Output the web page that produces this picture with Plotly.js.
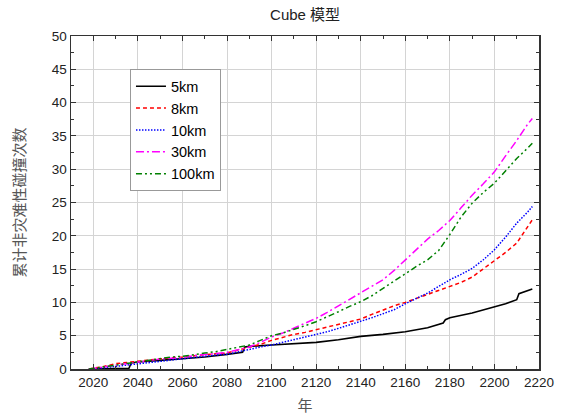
<!DOCTYPE html>
<html>
<head>
<meta charset="utf-8">
<script src="https://cdn.plot.ly/plotly-3.0.1.min.js"></script>
<style>html,body{margin:0;padding:0;background:#fff;}#chart{width:566px;height:416px;}</style>
</head>
<body>
<div id="chart"></div>
<script>
const seriesNames = ["5km", "8km", "10km", "30km", "100km"];

const years5km = [2018, 2036, 2037, 2040, 2050, 2060, 2070, 2080, 2087, 2088, 2090, 2100, 2110, 2120, 2130, 2140, 2150, 2160, 2170, 2177, 2178, 2180, 2190, 2200, 2205, 2210, 2211, 2217];
const vals5km  = [0, 0.1, 0.9, 1.05, 1.3, 1.5, 1.8, 2.2, 2.5, 3.3, 3.4, 3.6, 3.8, 4.0, 4.4, 4.9, 5.2, 5.6, 6.2, 6.9, 7.4, 7.7, 8.4, 9.3, 9.8, 10.4, 11.3, 12.0];

const years = [2018, 2020, 2025, 2030, 2035, 2040, 2045, 2050, 2055, 2060, 2065, 2070, 2075, 2080, 2085, 2090, 2095, 2100, 2105, 2110, 2115, 2120, 2125, 2130, 2135, 2140, 2145, 2150, 2155, 2160, 2165, 2170, 2175, 2180, 2185, 2190, 2195, 2200, 2205, 2210, 2215, 2217];

const vals8km = [0, 0.1, 0.4, 0.8, 1.0, 1.2, 1.4, 1.5, 1.7, 1.8, 2.0, 2.1, 2.3, 2.4, 2.8, 3.2, 3.7, 4.3, 4.8, 5.2, 5.5, 5.9, 6.3, 6.7, 7.1, 7.5, 8.2, 8.9, 9.5, 10.0, 10.6, 11.2, 11.7, 12.3, 13.0, 13.8, 15.0, 16.3, 17.5, 18.9, 21.5, 22.4];

const vals10km = [0, 0, 0.2, 0.4, 0.6, 0.8, 1.0, 1.2, 1.3, 1.5, 1.8, 2.0, 2.1, 2.2, 2.6, 3.0, 3.3, 3.6, 4.0, 4.4, 4.8, 5.1, 5.6, 6.1, 6.6, 7.1, 7.7, 8.3, 8.9, 9.8, 10.6, 11.4, 12.4, 13.4, 14.2, 15.1, 16.4, 17.9, 19.8, 21.9, 23.6, 24.4];

const vals30km = [0, 0.1, 0.3, 0.6, 0.8, 1.0, 1.3, 1.5, 1.6, 1.7, 2.0, 2.2, 2.3, 2.5, 2.9, 3.3, 4.0, 4.8, 5.4, 6.1, 6.8, 7.6, 8.5, 9.5, 10.5, 11.4, 12.4, 13.4, 14.8, 16.4, 18.0, 19.5, 20.8, 22.3, 24.2, 26.1, 27.8, 29.6, 32.0, 34.3, 36.8, 37.6];

const vals100km = [0, 0.1, 0.4, 0.6, 0.9, 1.1, 1.4, 1.6, 1.8, 1.9, 2.2, 2.4, 2.6, 2.9, 3.2, 3.6, 4.3, 5.0, 5.4, 5.9, 6.5, 7.1, 7.8, 8.6, 9.4, 10.1, 11.0, 12.1, 13.2, 14.4, 15.4, 16.4, 17.8, 20.2, 22.8, 24.9, 26.5, 27.9, 29.8, 31.6, 33.2, 33.9];

const xTickVals = [2020, 2040, 2060, 2080, 2100, 2120, 2140, 2160, 2180, 2200, 2220];
const yTickVals = [0, 5, 10, 15, 20, 25, 30, 35, 40, 45, 50];

const traces = [
  {x: years5km, y: vals5km, name: seriesNames[0], mode: 'lines', line: {color: '#000000', width: 1.6, dash: 'solid'}},
  {x: years, y: vals8km, name: seriesNames[1], mode: 'lines', line: {color: '#ff0000', width: 1.5, dash: '4px,3px'}},
  {x: years, y: vals10km, name: seriesNames[2], mode: 'lines', line: {color: '#0000ff', width: 1.5, dash: '1.5px,1.5px'}},
  {x: years, y: vals30km, name: seriesNames[3], mode: 'lines', line: {color: '#ff00ff', width: 1.5, dash: '8px,3px,2px,3px'}},
  {x: years, y: vals100km, name: seriesNames[4], mode: 'lines', line: {color: '#008000', width: 1.5, dash: '6px,3px,2px,3px,2px,3px'}}
];

const axisFont = {family: 'Liberation Sans, Arial, sans-serif', size: 13.5, color: '#222'};

const layout = {
  width: 566, height: 416,
  margin: {l: 71, r: 27, t: 36, b: 47},
  paper_bgcolor: '#ffffff', plot_bgcolor: '#ffffff',
  showlegend: true,
  title: {text: 'Cube 模型', x: 0.539, xanchor: 'center', y: 0.965, yanchor: 'middle',
          font: {family: 'Liberation Sans, Arial, Noto Sans CJK SC, sans-serif', size: 15, color: '#222'}},
  xaxis: {
    range: [2010, 2220], tickvals: xTickVals, ticktext: xTickVals.map(String),
    showgrid: true, gridcolor: '#d4d4d4', gridwidth: 1,
    zeroline: false, showline: true, linecolor: '#333', linewidth: 1.5, mirror: 'ticks',
    ticks: 'inside', ticklen: 5, tickcolor: '#333', tickwidth: 1,
    minor: {dtick: 10, tick0: 2010, ticks: 'inside', ticklen: 3, tickcolor: '#333', showgrid: false},
    tickfont: axisFont,
    title: {text: '年', font: {family: 'Noto Sans CJK SC, sans-serif', size: 15, color: '#555'}, standoff: 12}
  },
  yaxis: {
    range: [0, 50], tickvals: yTickVals, ticktext: yTickVals.map(String),
    showgrid: true, gridcolor: '#d4d4d4', gridwidth: 1,
    zeroline: false, showline: true, linecolor: '#333', linewidth: 1.5, mirror: 'ticks',
    ticks: 'inside', ticklen: 5, tickcolor: '#333', tickwidth: 1,
    minor: {dtick: 2.5, ticks: 'inside', ticklen: 3, tickcolor: '#333', showgrid: false},
    tickfont: axisFont,
    title: {text: '累计非灾难性碰撞次数', font: {family: 'Noto Sans CJK SC, sans-serif', size: 15, color: '#555'}, standoff: 22}
  },
  legend: {
    x: 0.126, y: 0.9, xanchor: 'left', yanchor: 'top',
    bgcolor: '#ffffff', bordercolor: '#999', borderwidth: 1,
    font: {family: 'Liberation Sans, Arial, sans-serif', size: 14.5, color: '#000'},
    tracegroupgap: 0, itemwidth: 30
  }
};

Plotly.newPlot('chart', traces, layout, {displayModeBar: false, staticPlot: true});
</script>
</body>
</html>
